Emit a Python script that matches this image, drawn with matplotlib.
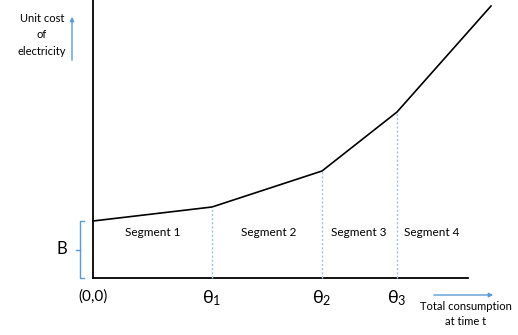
import matplotlib.pyplot as plt

# piecewise unit cost curve (origin at (0,0))
breakpoints = [0, 119, 229, 304, 398]
unit_cost = [57, 71, 107, 166, 272]
theta_labels = [r'$\mathregular{\theta_1}$', r'$\mathregular{\theta_2}$', r'$\mathregular{\theta_3}$']
segment_names = ['Segment 1', 'Segment 2', 'Segment 3', 'Segment 4']
segment_centers = [60, 176, 266, 339]
x_axis_end = 375
y_axis_top = 278

plt.rcParams['font.family'] = ['Lato', 'DejaVu Sans']

fig = plt.figure(figsize=(5.18, 3.35), dpi=100)
ax = fig.add_axes([0, 0, 1, 1])
ax.set_xlim(-93, 425)
ax.set_ylim(-57, 278)
ax.axis('off')

# axes
ax.plot([0, 0], [0, y_axis_top], color='black', lw=1.3)
ax.plot([0, x_axis_end], [0, 0], color='black', lw=1.3)

# cost curve
ax.plot(breakpoints, unit_cost, color='black', lw=1.2)

# dotted separators at thresholds
for x, y in zip(breakpoints[1:4], unit_cost[1:4]):
    ax.plot([x, x], [0, y], color='#9dc3e6', lw=1, ls=(0, (1.5, 1.5)))

# threshold labels
for x, lab in zip(breakpoints[1:4], theta_labels):
    ax.text(x, -20, lab, ha='center', va='center', fontsize=13)
ax.text(0, -19, '(0,0)', ha='center', va='center', fontsize=11)

# segment labels
for x, lab in zip(segment_centers, segment_names):
    ax.text(x, 45, lab, ha='center', va='center', fontsize=8.5)

# B bracket
bc = '#5b9bd5'
b_top = unit_cost[0]
ax.plot([-9, -13, -13, -9], [b_top, b_top, 0, 0], color=bc, lw=1)
ax.plot([-13, -17], [b_top / 2, b_top / 2], color=bc, lw=1)
ax.text(-31, b_top / 2, 'B', ha='center', va='center', fontsize=12)

# y axis caption and arrow
ax.text(-51, 243, 'Unit cost\nof\nelectricity', ha='center', va='center',
        fontsize=8, linespacing=1.6)
ax.annotate('', xy=(-21, 264), xytext=(-21, 215),
            arrowprops=dict(arrowstyle='-|>', color=bc, lw=1, mutation_scale=6))

# x axis caption and arrow
ax.annotate('', xy=(403, -17), xytext=(338, -17),
            arrowprops=dict(arrowstyle='-|>', color=bc, lw=1, mutation_scale=6))
ax.text(373, -36, 'Total consumption\nat time t', ha='center', va='center',
        fontsize=8, linespacing=1.35)

fig.savefig('out.png', dpi=100, facecolor='white')
